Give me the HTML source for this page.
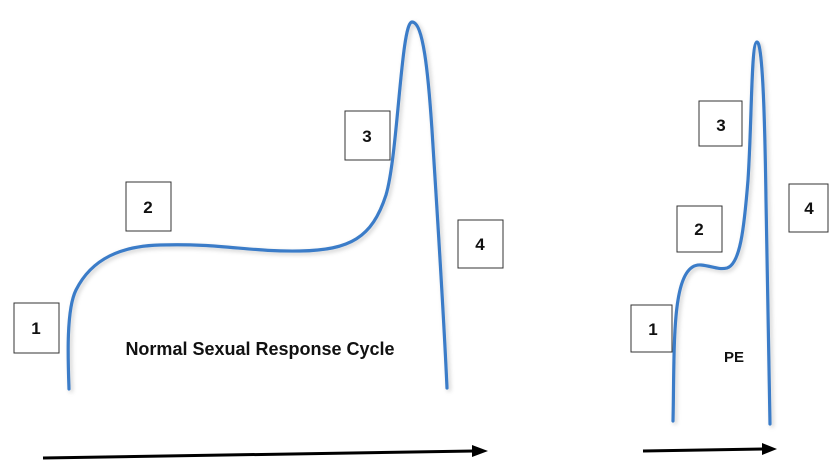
<!DOCTYPE html>
<html><head><style>
body{margin:0;background:#fff;width:835px;height:475px;overflow:hidden}
svg{display:block}
text{font-family:"Liberation Sans",sans-serif;font-weight:bold;fill:#111}
</style></head><body>
<svg width="835" height="475" viewBox="0 0 835 475">
<defs><filter id="s" x="-10%" y="-10%" width="120%" height="120%"><feDropShadow dx="2" dy="2" stdDeviation="2" flood-color="#000" flood-opacity="0.2"/></filter></defs>
<g fill="none" stroke="#3a7cc8" stroke-width="3.2" stroke-linecap="round" filter="url(#s)">
<path d="M69,389 C68,360 66,310 76,290 C92,258 122,246 160,245 C220,243 250,252 300,251 C350,250 372,238 386,195 C398,155 401,22 412,22 C423,22 428,70 432,130 C437,210 443,300 447,388"/>
<path d="M673,421 C674,380 673,330 678,300 C682,275 690,264 701,265 C712,266 718,270 727,268 C740,264 744,230 748,180 C752,120 751,42 757,42 C763,42 765,130 766,200 C767,280 769,360 770,424"/>
</g>
<g fill="#fff" stroke="#333" stroke-width="1">
<rect x="14" y="303" width="45" height="50"/>
<rect x="126" y="182" width="45" height="49"/>
<rect x="345" y="111" width="45" height="49"/>
<rect x="458" y="220" width="45" height="48"/>
<rect x="631" y="305" width="41" height="47"/>
<rect x="677" y="206" width="45" height="46"/>
<rect x="699" y="101" width="43" height="45"/>
<rect x="789" y="184" width="39" height="48"/>
</g>
<g font-size="17" text-anchor="middle">
<text x="36" y="334">1</text>
<text x="148" y="213">2</text>
<text x="367" y="142">3</text>
<text x="480" y="250">4</text>
<text x="653" y="335">1</text>
<text x="699" y="235">2</text>
<text x="721" y="131">3</text>
<text x="809" y="214">4</text>
<text x="260" y="355" font-size="18">Normal Sexual Response Cycle</text>
<text x="734" y="362" font-size="15">PE</text>
</g>
<g stroke="#000" stroke-width="3" fill="#000">
<line x1="43" y1="458" x2="474" y2="451"/>
<polygon points="488,451 472,445 472,457" stroke="none"/>
<line x1="643" y1="451" x2="764" y2="449"/>
<polygon points="777,449 762,443 762,455" stroke="none"/>
</g>
</svg>
</body></html>
